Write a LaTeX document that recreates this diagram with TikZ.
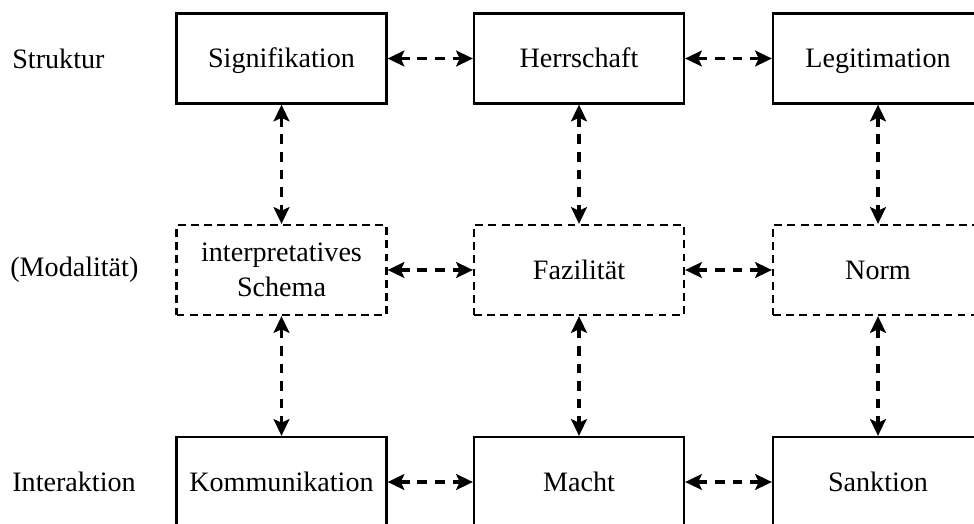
\documentclass[tikz,border=0pt]{standalone}
\usepackage{fontspec}
\setmainfont{Liberation Serif}
\usetikzlibrary{arrows.meta}
\tikzset{
  box/.style={draw, line width=1.3pt, minimum width=4.2cm, minimum height=1.8cm,
    align=center, inner sep=0pt, text height=10.6pt, text depth=0pt,
    font=\fontsize{16}{20}\selectfont},
  modbox/.style={box, dash pattern=on 4.5pt off 3pt},
  link/.style={{Stealth[length=9.5pt,width=9pt,inset=2pt]}-{Stealth[length=9.5pt,width=9pt,inset=2pt]},
    line width=1.8pt, dash pattern=on 5.5pt off 4.5pt},
  rowlabel/.style={anchor=west, inner sep=0pt, font=\fontsize{16}{20}\selectfont}
}
\begin{document}
\begin{tikzpicture}[x=0.02cm,y=-0.02cm]
\useasboundingbox (0,0) rectangle (974,524);
\clip (0,0) rectangle (974,524);
% row labels
\node[rowlabel] (lstruktur) at (12,58.5) {Struktur};
\node[rowlabel] (lmodal) at (10,270) {(Modalität)};
\node[rowlabel] (linter) at (12,482) {Interaktion};
% Struktur
\node[box] (sig) at (281.5,58.5) {Signifikation};
\node[box] (herr) at (579,58.5) {Herrschaft};
\node[box] (leg) at (878,58.5) {Legitimation};
% Modalitaet
\node[modbox, text height=, text depth=] (schema) at (281.5,270) {interpretatives\\Schema};
\node[modbox] (faz) at (579,270) {Fazilität};
\node[modbox] (norm) at (878,270) {Norm};
% Interaktion
\node[box] (komm) at (281.5,482) {Kommunikation};
\node[box] (macht) at (579,482) {Macht};
\node[box] (sank) at (878,482) {Sanktion};
% horizontal links
\draw[link] (sig) -- (herr);
\draw[link] (herr) -- (leg);
\draw[link] (schema) -- (faz);
\draw[link] (faz) -- (norm);
\draw[link] (komm) -- (macht);
\draw[link] (macht) -- (sank);
% vertical links
\draw[link] (sig) -- (schema);
\draw[link] (schema) -- (komm);
\draw[link] (herr) -- (faz);
\draw[link] (faz) -- (macht);
\draw[link] (leg) -- (norm);
\draw[link] (norm) -- (sank);
\end{tikzpicture}
\end{document}
